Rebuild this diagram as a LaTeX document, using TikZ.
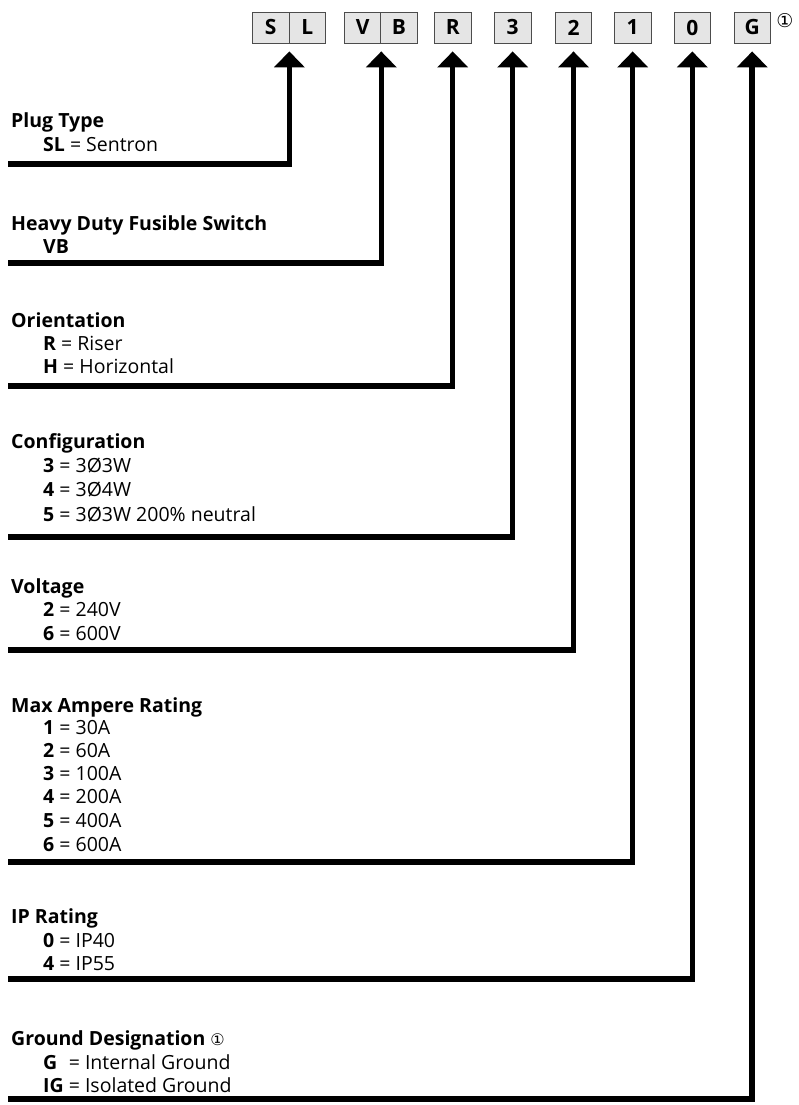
\documentclass[tikz,border=0pt]{standalone}
\usepackage{fontspec}
\setmainfont{Open Sans}
\newfontfamily\circfont{DejaVu Sans}
\usetikzlibrary{arrows.meta}

\begin{document}
\begin{tikzpicture}[x=1pt,y=-1pt,
        every node/.style={inner sep=0pt},
        key/.style={draw=black!70,fill=black!10,line width=0.8pt,
            minimum width=36.5pt,minimum height=31pt,
            font=\fontsize{21}{21}\selectfont\bfseries},
        head/.style={anchor=base west,font=\fontsize{19.5}{19.5}\selectfont\bfseries},
        item/.style={anchor=base west,font=\fontsize{19.5}{19.5}\selectfont},
        conn/.style={line width=5.5pt,-{Triangle[width=30pt,length=16pt]}}]
    \useasboundingbox (0,0) rectangle (798,1105);

    % code boxes
    \node[key] (kS) at (270.7,27.5) {S};
    \node[key] (kL) at (307.3,27.5) {L};
    \node[key] (kV) at (362.6,27.5) {V};
    \node[key] (kB) at (398.8,27.5) {B};
    \node[key] (kR) at (452.7,27.5) {R};
    \node[key] (k3) at (512.7,27.5) {3};
    \node[key] (k2) at (573.5,27.5) {2};
    \node[key] (k1) at (632.7,27.5) {1};
    \node[key] (k0) at (692.3,27.5) {0};
    \node[key] (kG) at (752.2,27.5) {G};
    \node[font=\circfont\fontsize{19}{19}\selectfont] (n1) at (785,21) {①};

    % descriptions
    \node[head] (h1) at (11,128) {Plug Type};
    \node[item] (i11) at (43,151) {\textbf{SL} = Sentron};

    \node[head] (h2) at (11,230) {Heavy Duty Fusible Switch};
    \node[item] (i21) at (43,253) {\textbf{VB}};

    \node[head] (h3) at (11,327) {Orientation};
    \node[item] (i31) at (43,350) {\textbf{R} = Riser};
    \node[item] (i32) at (43,373) {\textbf{H} = Horizontal};

    \node[head] (h4) at (11,448) {Configuration};
    \node[item] (i41) at (43,472) {\textbf{3} = 3Ø3W};
    \node[item] (i42) at (43,496) {\textbf{4} = 3Ø4W};
    \node[item] (i43) at (43,521) {\textbf{5} = 3Ø3W 200\% neutral};

    \node[head] (h5) at (11,593) {Voltage};
    \node[item] (i51) at (43,616) {\textbf{2} = 240V};
    \node[item] (i52) at (43,640) {\textbf{6} = 600V};

    \node[head] (h6) at (11,712) {Max Ampere Rating};
    \node[item] (i61) at (43,734) {\textbf{1} = 30A};
    \node[item] (i62) at (43,757) {\textbf{2} = 60A};
    \node[item] (i63) at (43,780) {\textbf{3} = 100A};
    \node[item] (i64) at (43,803) {\textbf{4} = 200A};
    \node[item] (i65) at (43,827) {\textbf{5} = 400A};
    \node[item] (i66) at (43,851) {\textbf{6} = 600A};

    \node[head] (h7) at (11,923) {IP Rating};
    \node[item] (i71) at (43,947) {\textbf{0} = IP40};
    \node[item] (i72) at (43,970) {\textbf{4} = IP55};

    \node[head] (h8) at (11,1045) {Ground Designation {\circfont\mdseries\fontsize{16}{16}\selectfont ①}};
    \node[item] (i81) at (43,1069) {\textbf{G}\phantom{\textbf{I}} = Internal Ground};
    \node[item] (i82) at (43,1092) {\textbf{IG} = Isolated Ground};

    % line ends
    \coordinate (a1) at (8,164);
    \coordinate (a2) at (8,263);
    \coordinate (a3) at (8,386);
    \coordinate (a4) at (8,537);
    \coordinate (a5) at (8,650);
    \coordinate (a6) at (8,862);
    \coordinate (a7) at (8,979);
    \coordinate (a8) at (8,1099);

    \draw[conn] (a1) -| ([yshift=-8pt]kS.south east);
    \draw[conn] (a2) -| ([yshift=-8pt]kV.south east);
    \draw[conn] (a3) -| ([yshift=-8pt]kR.south);
    \draw[conn] (a4) -| ([yshift=-8pt]k3.south);
    \draw[conn] (a5) -| ([yshift=-8pt]k2.south);
    \draw[conn] (a6) -| ([yshift=-8pt]k1.south);
    \draw[conn] (a7) -| ([yshift=-8pt]k0.south);
    \draw[conn] (a8) -| ([yshift=-8pt]kG.south);
\end{tikzpicture}
\end{document}
